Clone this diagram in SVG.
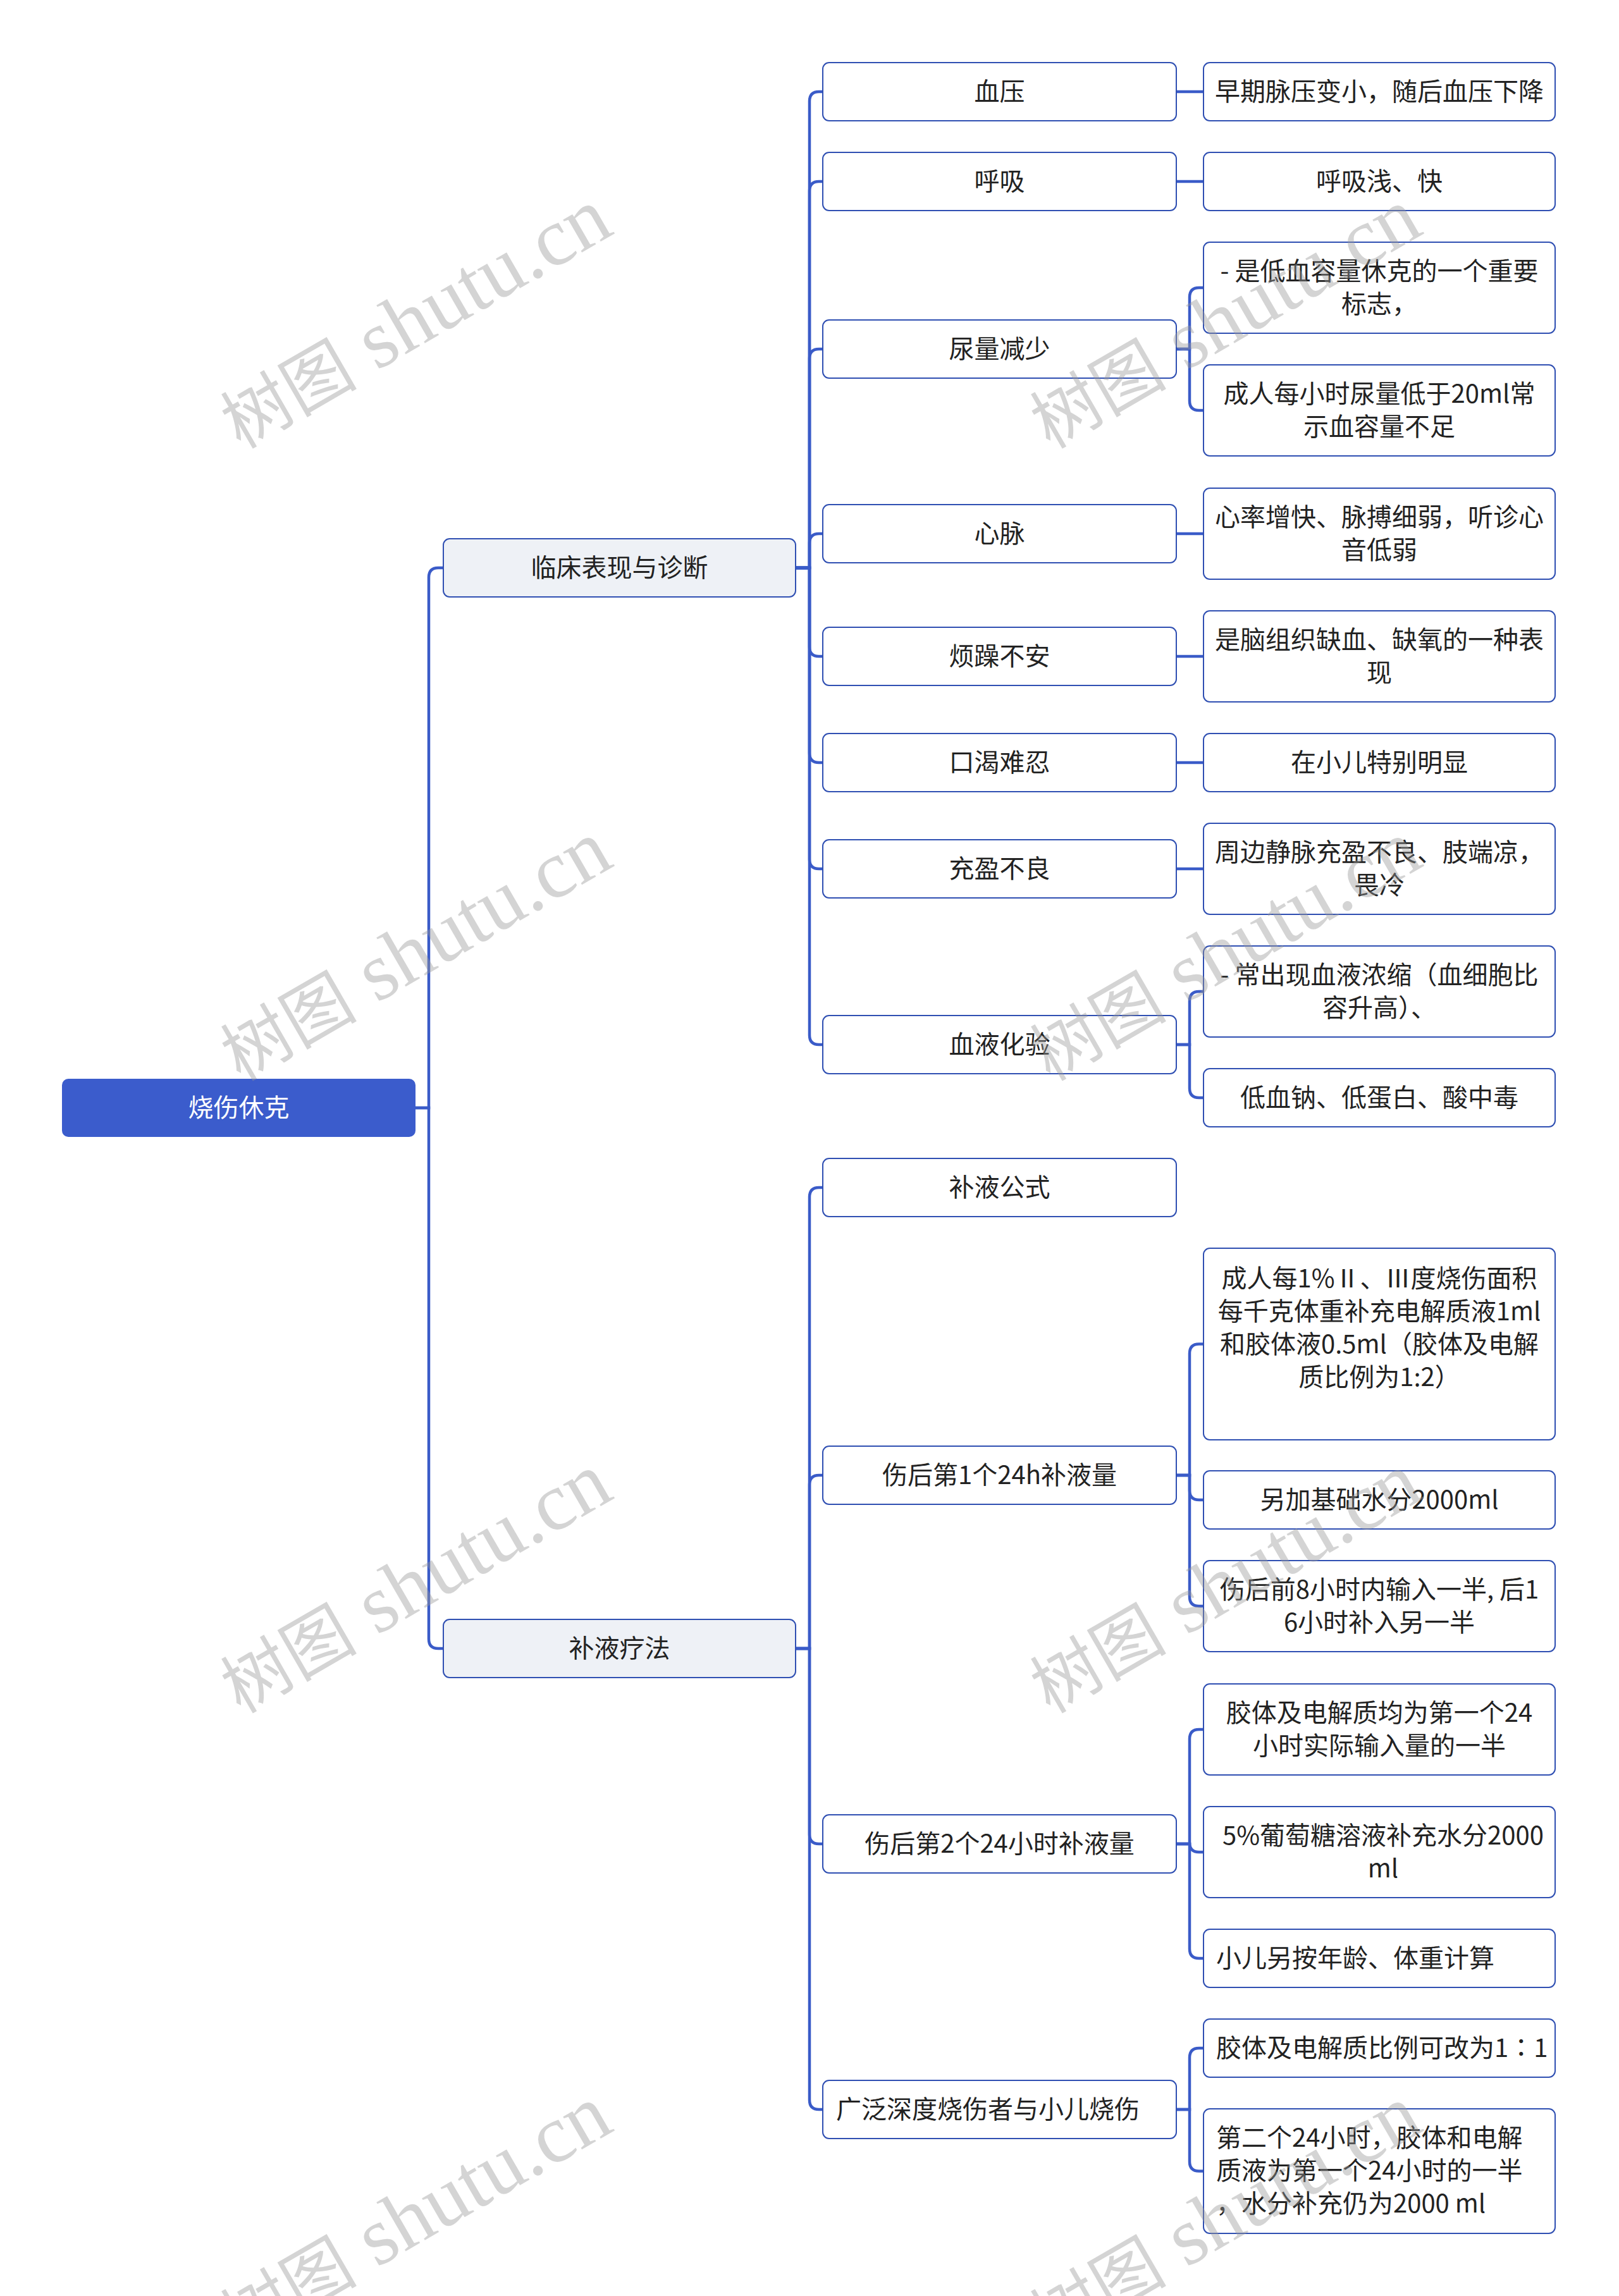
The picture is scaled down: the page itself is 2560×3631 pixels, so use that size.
<svg xmlns="http://www.w3.org/2000/svg" width="2560" height="3631" viewBox="0 0 2560 3631">
<style>
.bx{fill:#ffffff;stroke:#2f4fb2;stroke-width:2}
.l1{fill:#eef1f6;stroke:#2f4fb2;stroke-width:2}
.rt{fill:#3b5ccc}
.t{font-family:"Noto Sans CJK SC","Noto Sans",sans-serif;font-size:40px;fill:#222222}
.m{text-anchor:middle}
.s{text-anchor:start}
.w{fill:#ffffff}
.tc{font-family:"Noto Sans CJK TC","Noto Sans CJK SC",sans-serif}
.c path{fill:none;stroke:#3a5bc8;stroke-width:4.5}
.wm{font-family:"Liberation Serif","Noto Sans CJK SC",serif;font-size:130px;fill:#999999;fill-opacity:0.42;text-anchor:middle}
.wc{font-size:108px}
</style>
<rect width="2560" height="3631" fill="#ffffff"/>
<g class="c" id="connectors">
<path d="M657 1752 H678 V913 Q678 898 693 898 H701"/>
<path d="M657 1752 H678 V2592 Q678 2607 693 2607 H701"/>
<path d="M1258 898 H1280 V160 Q1280 145 1295 145 H1301"/>
<path d="M1258 898 H1280 V302 Q1280 287 1295 287 H1301"/>
<path d="M1258 898 H1280 V567 Q1280 552 1295 552 H1301"/>
<path d="M1258 898 H1280 V859 Q1280 844 1295 844 H1301"/>
<path d="M1258 898 H1280 V1023 Q1280 1038 1295 1038 H1301"/>
<path d="M1258 898 H1280 V1191 Q1280 1206 1295 1206 H1301"/>
<path d="M1258 898 H1280 V1359 Q1280 1374 1295 1374 H1301"/>
<path d="M1258 898 H1280 V1637 Q1280 1652 1295 1652 H1301"/>
<path d="M1258 2607 H1280 V1893 Q1280 1878 1295 1878 H1301"/>
<path d="M1258 2607 H1280 V2348 Q1280 2333 1295 2333 H1301"/>
<path d="M1258 2607 H1280 V2901 Q1280 2916 1295 2916 H1301"/>
<path d="M1258 2607 H1280 V3321 Q1280 3336 1295 3336 H1301"/>
<path d="M1860 145 H1903"/>
<path d="M1860 287 H1903"/>
<path d="M1860 552 H1881 V470 Q1881 455 1896 455 H1903"/>
<path d="M1860 552 H1881 V634 Q1881 649 1896 649 H1903"/>
<path d="M1860 844 H1903"/>
<path d="M1860 1038 H1903"/>
<path d="M1860 1206 H1903"/>
<path d="M1860 1374 H1903"/>
<path d="M1860 1652 H1881 V1583 Q1881 1568 1896 1568 H1903"/>
<path d="M1860 1652 H1881 V1721 Q1881 1736 1896 1736 H1903"/>
<path d="M1860 2333 H1881 V2140.5 Q1881 2125.5 1896 2125.5 H1903"/>
<path d="M1860 2333 H1881 V2357 Q1881 2372 1896 2372 H1903"/>
<path d="M1860 2333 H1881 V2525 Q1881 2540 1896 2540 H1903"/>
<path d="M1860 2916 H1881 V2750 Q1881 2735 1896 2735 H1903"/>
<path d="M1860 2916 H1881 V2914 Q1881 2929 1896 2929 H1903"/>
<path d="M1860 2916 H1881 V3082 Q1881 3097 1896 3097 H1903"/>
<path d="M1860 3336 H1881 V3254 Q1881 3239 1896 3239 H1903"/>
<path d="M1860 3336 H1881 V3418.5 Q1881 3433.5 1896 3433.5 H1903"/>
</g>
<g id="root"><rect class="rt" x="98" y="1706" width="559" height="92" rx="10"/><text class="t m w" x="377.5" y="1766">烧伤休克</text></g>
<g id="n-linchuang"><rect class="l1" x="701" y="852" width="557" height="92" rx="10"/><text class="t m" x="979.5" y="912">临床表现与诊断</text></g>
<g id="n-buye"><rect class="l1" x="701" y="2561" width="557" height="92" rx="10"/><text class="t m" x="979.5" y="2621">补液疗法</text></g>

<g id="n-xueya"><rect class="bx" x="1301" y="99" width="559" height="92" rx="10"/><text class="t m" x="1580.5" y="159">血压</text></g>
<g id="n-huxi"><rect class="bx" x="1301" y="241" width="559" height="92" rx="10"/><text class="t m" x="1580.5" y="301">呼吸</text></g>
<g id="n-niaoliang"><rect class="bx" x="1301" y="506" width="559" height="92" rx="10"/><text class="t m" x="1580.5" y="566">尿量减少</text></g>
<g id="n-xinmai"><rect class="bx" x="1301" y="798" width="559" height="92" rx="10"/><text class="t m" x="1580.5" y="858">心脉</text></g>
<g id="n-fanzao"><rect class="bx" x="1301" y="992" width="559" height="92" rx="10"/><text class="t m" x="1580.5" y="1052">烦躁不安</text></g>
<g id="n-kouke"><rect class="bx" x="1301" y="1160" width="559" height="92" rx="10"/><text class="t m" x="1580.5" y="1220">口渴难忍</text></g>
<g id="n-chongying"><rect class="bx" x="1301" y="1328" width="559" height="92" rx="10"/><text class="t m" x="1580.5" y="1388">充盈不良</text></g>
<g id="n-xueye"><rect class="bx" x="1301" y="1606" width="559" height="92" rx="10"/><text class="t m" x="1580.5" y="1666">血液化验</text></g>
<g id="n-gongshi"><rect class="bx" x="1301" y="1832" width="559" height="92" rx="10"/><text class="t m" x="1580.5" y="1892">补液公式</text></g>
<g id="n-di1"><rect class="bx" x="1301" y="2287" width="559" height="92" rx="10"/><text class="t m" x="1580.5" y="2347">伤后第1个24h补液量</text></g>
<g id="n-di2"><rect class="bx" x="1301" y="2870" width="559" height="92" rx="10"/><text class="t m" x="1580.5" y="2930">伤后第2个24小时补液量</text></g>
<g id="n-guangfan"><rect class="bx" x="1301" y="3290" width="559" height="92" rx="10"/><text class="t s" x="1322" y="3350">广泛深度烧伤者与小儿烧伤</text></g>

<g id="n-a1"><rect class="bx" x="1903" y="99" width="556" height="92" rx="10"/><text class="t m" x="2181" y="159">早期脉压变小，随后血压下降</text></g>
<g id="n-a2"><rect class="bx" x="1903" y="241" width="556" height="92" rx="10"/><text class="t m" x="2181" y="301">呼吸浅、快</text></g>
<g id="n-a3"><rect class="bx" x="1903" y="383" width="556" height="144" rx="10"/><text class="t m" x="2181" y="443">- 是低血容量休克的一个重要</text><text class="t m" x="2181" y="495">标志，</text></g>
<g id="n-a4"><rect class="bx" x="1903" y="577" width="556" height="144" rx="10"/><text class="t m" x="2181" y="637">成人每小时尿量低于20ml常</text><text class="t m" x="2181" y="689">示血容量不足</text></g>
<g id="n-a5"><rect class="bx" x="1903" y="772" width="556" height="144" rx="10"/><text class="t m" x="2181" y="832">心率增快、脉搏细弱，听诊心</text><text class="t m" x="2181" y="884">音低弱</text></g>
<g id="n-a6"><rect class="bx" x="1903" y="966" width="556" height="144" rx="10"/><text class="t m" x="2181" y="1026">是脑组织缺血、缺氧的一种表</text><text class="t m" x="2181" y="1078">现</text></g>
<g id="n-a7"><rect class="bx" x="1903" y="1160" width="556" height="92" rx="10"/><text class="t m" x="2181" y="1220">在小儿特别明显</text></g>
<g id="n-a8"><rect class="bx" x="1903" y="1302" width="556" height="144" rx="10"/><text class="t m" x="2181" y="1362">周边静脉充盈不良、肢端凉，</text><text class="t m" x="2181" y="1414">畏冷</text></g>
<g id="n-a9"><rect class="bx" x="1903" y="1496" width="556" height="144" rx="10"/><text class="t m" x="2181" y="1556">- 常出现血液浓缩（血细胞比</text><text class="t m" x="2181" y="1608">容升高）、</text></g>
<g id="n-a10"><rect class="bx" x="1903" y="1690" width="556" height="92" rx="10"/><text class="t m" x="2181" y="1750">低血钠、低蛋白、酸中毒</text></g>
<g id="n-b1"><rect class="bx" x="1903" y="1974" width="556" height="303" rx="10"/><text class="t m" x="2181" y="2036">成人每1%Ⅱ、Ⅲ度烧伤面积</text><text class="t m" x="2181" y="2088">每千克体重补充电解质液1ml</text><text class="t m" x="2181" y="2140">和胶体液0.5ml（胶体及电解</text><text class="t m" x="2181" y="2192">质比例为1:2）</text></g>
<g id="n-b2"><rect class="bx" x="1903" y="2326" width="556" height="92" rx="10"/><text class="t m" x="2181" y="2386">另加基础水分2000ml</text></g>
<g id="n-b3"><rect class="bx" x="1903" y="2468" width="556" height="144" rx="10"/><text class="t m" x="2181" y="2528">伤后前8小时内输入一半, 后1</text><text class="t m" x="2181" y="2580">6小时补入另一半</text></g>
<g id="n-c1"><rect class="bx" x="1903" y="2663" width="556" height="144" rx="10"/><text class="t m" x="2181" y="2723">胶体及电解质均为第一个24</text><text class="t m" x="2181" y="2775">小时实际输入量的一半</text></g>
<g id="n-c2"><rect class="bx" x="1903" y="2857" width="556" height="144" rx="10"/><text class="t m" x="2187" y="2917">5%葡萄糖溶液补充水分2000</text><text class="t m" x="2187" y="2969">ml</text></g>
<g id="n-c3"><rect class="bx" x="1903" y="3051" width="556" height="92" rx="10"/><text class="t s" x="1923" y="3111">小儿另按年龄、体重计算</text></g>
<g id="n-d1"><rect class="bx" x="1903" y="3193" width="556" height="92" rx="10"/><text class="t s" x="1923" y="3253">胶体及电解质比例可改为1<tspan class="tc">：</tspan>1</text></g>
<g id="n-d2"><rect class="bx" x="1903" y="3335" width="556" height="197" rx="10"/><text class="t s" x="1923" y="3395">第二个24小时，胶体和电解</text><text class="t s" x="1923" y="3447">质液为第一个24小时的一半</text><text class="t s" x="1923" y="3499">，水分补充仍为2000 ml</text></g>

<g id="watermarks">
<text class="wm" transform="rotate(-30 657 505)" x="657" y="545"><tspan class="wc">树图</tspan> shutu.cn</text>
<text class="wm" transform="rotate(-30 657 1505)" x="657" y="1545"><tspan class="wc">树图</tspan> shutu.cn</text>
<text class="wm" transform="rotate(-30 657 2505)" x="657" y="2545"><tspan class="wc">树图</tspan> shutu.cn</text>
<text class="wm" transform="rotate(-30 657 3505)" x="657" y="3545"><tspan class="wc">树图</tspan> shutu.cn</text>
<text class="wm" transform="rotate(-30 1937 505)" x="1937" y="545"><tspan class="wc">树图</tspan> shutu.cn</text>
<text class="wm" transform="rotate(-30 1937 1505)" x="1937" y="1545"><tspan class="wc">树图</tspan> shutu.cn</text>
<text class="wm" transform="rotate(-30 1937 2505)" x="1937" y="2545"><tspan class="wc">树图</tspan> shutu.cn</text>
<text class="wm" transform="rotate(-30 1937 3505)" x="1937" y="3545"><tspan class="wc">树图</tspan> shutu.cn</text>
</g>
</svg>
